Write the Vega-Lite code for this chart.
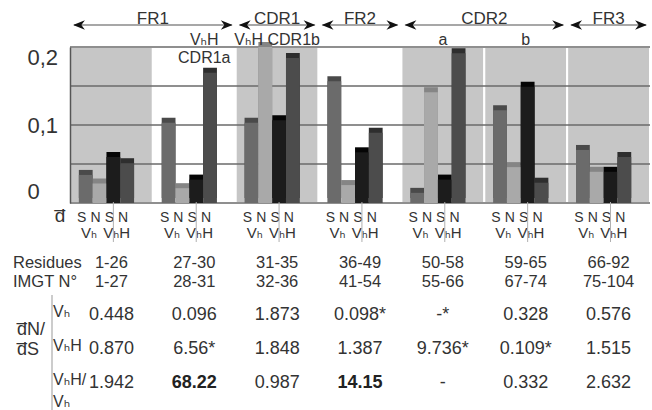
{
  "$schema": "https://vega.github.io/schema/vega-lite/v6.json",
  "width": 580,
  "height": 156,
  "autosize": {"type": "none"},
  "padding": {"left": 70, "top": 47, "right": 2, "bottom": 207},
  "background": "white",
  "config": {"view": {"stroke": null}, "font": "Liberation Sans, Arial, DejaVu Sans, sans-serif"},
  "datasets": {
    "bars": [
      {"group": "FR1", "series": "S VH", "subst": "S", "chain": "VH", "value": 0.036},
      {"group": "FR1", "series": "N VH", "subst": "N", "chain": "VH", "value": 0.025},
      {"group": "FR1", "series": "S VHH", "subst": "S", "chain": "VHH", "value": 0.059},
      {"group": "FR1", "series": "N VHH", "subst": "N", "chain": "VHH", "value": 0.051},
      {"group": "CDR1a", "series": "S VH", "subst": "S", "chain": "VH", "value": 0.103},
      {"group": "CDR1a", "series": "N VH", "subst": "N", "chain": "VH", "value": 0.019},
      {"group": "CDR1a", "series": "S VHH", "subst": "S", "chain": "VHH", "value": 0.030},
      {"group": "CDR1a", "series": "N VHH", "subst": "N", "chain": "VHH", "value": 0.167},
      {"group": "CDR1b", "series": "S VH", "subst": "S", "chain": "VH", "value": 0.103},
      {"group": "CDR1b", "series": "N VH", "subst": "N", "chain": "VH", "value": 0.200},
      {"group": "CDR1b", "series": "S VHH", "subst": "S", "chain": "VHH", "value": 0.106},
      {"group": "CDR1b", "series": "N VHH", "subst": "N", "chain": "VHH", "value": 0.186},
      {"group": "FR2", "series": "S VH", "subst": "S", "chain": "VH", "value": 0.156},
      {"group": "FR2", "series": "N VH", "subst": "N", "chain": "VH", "value": 0.023},
      {"group": "FR2", "series": "S VHH", "subst": "S", "chain": "VHH", "value": 0.065},
      {"group": "FR2", "series": "N VHH", "subst": "N", "chain": "VHH", "value": 0.090},
      {"group": "CDR2a", "series": "S VH", "subst": "S", "chain": "VH", "value": 0.013},
      {"group": "CDR2a", "series": "N VH", "subst": "N", "chain": "VH", "value": 0.142},
      {"group": "CDR2a", "series": "S VHH", "subst": "S", "chain": "VHH", "value": 0.030},
      {"group": "CDR2a", "series": "N VHH", "subst": "N", "chain": "VHH", "value": 0.192},
      {"group": "CDR2b", "series": "S VH", "subst": "S", "chain": "VH", "value": 0.119},
      {"group": "CDR2b", "series": "N VH", "subst": "N", "chain": "VH", "value": 0.046},
      {"group": "CDR2b", "series": "S VHH", "subst": "S", "chain": "VHH", "value": 0.149},
      {"group": "CDR2b", "series": "N VHH", "subst": "N", "chain": "VHH", "value": 0.026},
      {"group": "FR3", "series": "S VH", "subst": "S", "chain": "VH", "value": 0.068},
      {"group": "FR3", "series": "N VH", "subst": "N", "chain": "VH", "value": 0.040},
      {"group": "FR3", "series": "S VHH", "subst": "S", "chain": "VHH", "value": 0.040},
      {"group": "FR3", "series": "N VHH", "subst": "N", "chain": "VHH", "value": 0.059}
    ],
    "groups": [
      {"group": "FR1"}, {"group": "CDR1a"}, {"group": "CDR1b"}, {"group": "FR2"},
      {"group": "CDR2a"}, {"group": "CDR2b"}, {"group": "FR3"}
    ],
    "regions": [
      {"region": "FR1", "from": "FR1", "to": "CDR1a"},
      {"region": "CDR1", "from": "CDR1b", "to": "CDR1b"},
      {"region": "FR2", "from": "FR2", "to": "FR2"},
      {"region": "CDR2", "from": "CDR2a", "to": "CDR2b"},
      {"region": "FR3", "from": "FR3", "to": "FR3"}
    ],
    "columnLabels": [
      {"group": "CDR1a", "label": "VₕH\nCDR1a"},
      {"group": "CDR1b", "label": "VₕH CDR1b"},
      {"group": "CDR2a", "label": "a"},
      {"group": "CDR2b", "label": "b"}
    ],
    "table": [
      {"group": "FR1", "row": "residues", "text": "1-26"},
      {"group": "FR1", "row": "imgt", "text": "1-27"},
      {"group": "FR1", "row": "dVH", "text": "0.448"},
      {"group": "FR1", "row": "dVHH", "text": "0.870"},
      {"group": "FR1", "row": "ratio", "text": "1.942"},
      {"group": "CDR1a", "row": "residues", "text": "27-30"},
      {"group": "CDR1a", "row": "imgt", "text": "28-31"},
      {"group": "CDR1a", "row": "dVH", "text": "0.096"},
      {"group": "CDR1a", "row": "dVHH", "text": "6.56*"},
      {"group": "CDR1a", "row": "ratio", "text": "68.22"},
      {"group": "CDR1b", "row": "residues", "text": "31-35"},
      {"group": "CDR1b", "row": "imgt", "text": "32-36"},
      {"group": "CDR1b", "row": "dVH", "text": "1.873"},
      {"group": "CDR1b", "row": "dVHH", "text": "1.848"},
      {"group": "CDR1b", "row": "ratio", "text": "0.987"},
      {"group": "FR2", "row": "residues", "text": "36-49"},
      {"group": "FR2", "row": "imgt", "text": "41-54"},
      {"group": "FR2", "row": "dVH", "text": "0.098*"},
      {"group": "FR2", "row": "dVHH", "text": "1.387"},
      {"group": "FR2", "row": "ratio", "text": "14.15"},
      {"group": "CDR2a", "row": "residues", "text": "50-58"},
      {"group": "CDR2a", "row": "imgt", "text": "55-66"},
      {"group": "CDR2a", "row": "dVH", "text": "-*"},
      {"group": "CDR2a", "row": "dVHH", "text": "9.736*"},
      {"group": "CDR2a", "row": "ratio", "text": "-"},
      {"group": "CDR2b", "row": "residues", "text": "59-65"},
      {"group": "CDR2b", "row": "imgt", "text": "67-74"},
      {"group": "CDR2b", "row": "dVH", "text": "0.328"},
      {"group": "CDR2b", "row": "dVHH", "text": "0.109*"},
      {"group": "CDR2b", "row": "ratio", "text": "0.332"},
      {"group": "FR3", "row": "residues", "text": "66-92"},
      {"group": "FR3", "row": "imgt", "text": "75-104"},
      {"group": "FR3", "row": "dVH", "text": "0.576"},
      {"group": "FR3", "row": "dVHH", "text": "1.515"},
      {"group": "FR3", "row": "ratio", "text": "2.632"}
    ],
    "rowLabels": [
      {"label": "d̅", "row": "letters", "level": "mark"},
      {"label": "Residues", "row": "residues", "level": "outer"},
      {"label": "IMGT N°", "row": "imgt", "level": "outer"},
      {"label": "d̅N/\nd̅S", "row": "dVHH", "level": "heading"},
      {"label": "Vₕ", "row": "dVH", "level": "inner"},
      {"label": "VₕH", "row": "dVHH", "level": "inner"},
      {"label": "VₕH/\nVₕ", "row": "ratio", "level": "inner"}
    ]
  },
  "resolve": {"scale": {"y": "independent"}},
  "layer": [
    {
      "layer": [
        {
          "data": {"name": "groups"},
          "mark": {"type": "rect", "stroke": "white", "strokeWidth": 2},
          "encoding": {
            "x": {"field": "group", "type": "nominal", "axis": null,
                  "scale": {"domain": ["FR1", "CDR1a", "CDR1b", "FR2", "CDR2a", "CDR2b", "FR3"], "paddingInner": 0, "paddingOuter": 0}},
            "y": {"datum": 0, "type": "quantitative", "scale": {"domain": [0, 0.2]},
                  "axis": {"values": [0, 0.1, 0.2], "format": "~g", "labelExpr": "replace(datum.label, '.', ',')",
                           "labelFontSize": 22, "labelColor": "#333", "labelFlush": true, "labelAlign": "left",
                           "labelPadding": 43, "ticks": false, "grid": false, "domain": true,
                           "domainColor": "#555", "domainWidth": 1.5, "title": null, "zindex": 1}},
            "y2": {"datum": 0.2},
            "color": {"condition": {"test": "datum.group === 'CDR1a' || datum.group === 'FR2'", "value": "#ffffff"}, "value": "#c6c6c6"}
          }
        },
        {
          "data": {"values": [{"tick": 0}, {"tick": 0.05}, {"tick": 0.1}, {"tick": 0.15}, {"tick": 0.2}]},
          "mark": {"type": "rule", "color": "#6a6a6a", "strokeWidth": 1.3},
          "encoding": {"y": {"field": "tick", "type": "quantitative"}}
        },
        {
          "data": {"name": "bars"},
          "mark": {"type": "bar", "xOffset": 5, "yOffset": -5, "y2Offset": -5},
          "encoding": {
            "x": {"field": "group", "type": "nominal",
                  "scale": {"domain": ["FR1", "CDR1a", "CDR1b", "FR2", "CDR2a", "CDR2b", "FR3"], "paddingInner": 0, "paddingOuter": 0}},
            "xOffset": {"field": "series", "type": "nominal",
                        "scale": {"domain": ["S VH", "N VH", "S VHH", "N VHH"], "paddingInner": 0, "paddingOuter": 1.19, "align": 0.32}},
            "y": {"field": "value", "type": "quantitative"},
            "fill": {"field": "series", "type": "nominal", "legend": null,
                     "scale": {"domain": ["S VH", "N VH", "S VHH", "N VHH"], "range": ["#4a4a4a", "#858585", "#050505", "#2e2e2e"]}}
          }
        },
        {
          "data": {"name": "bars"},
          "mark": {"type": "bar"},
          "encoding": {
            "x": {"field": "group", "type": "nominal",
                  "scale": {"domain": ["FR1", "CDR1a", "CDR1b", "FR2", "CDR2a", "CDR2b", "FR3"], "paddingInner": 0, "paddingOuter": 0}},
            "xOffset": {"field": "series", "type": "nominal",
                        "scale": {"domain": ["S VH", "N VH", "S VHH", "N VHH"], "paddingInner": 0, "paddingOuter": 1.19, "align": 0.32}},
            "y": {"field": "value", "type": "quantitative"},
            "color": {"field": "series", "type": "nominal", "legend": null,
                      "scale": {"domain": ["S VH", "N VH", "S VHH", "N VHH"], "range": ["#6b6b6b", "#a9a9a9", "#1c1c1c", "#4c4c4c"]}}
          }
        },
        {
          "data": {"name": "regions"},
          "mark": {"type": "rule", "color": "#8a8a8a", "strokeWidth": 1.5, "xOffset": 4, "x2Offset": -4},
          "encoding": {
            "x": {"field": "from", "type": "nominal", "bandPosition": 0},
            "x2": {"field": "to", "bandPosition": 1},
            "y": {"datum": 0.2282}
          }
        },
        {
          "data": {"name": "regions"},
          "mark": {"type": "point", "shape": "M-1,0L1,-0.8L0.4,0L1,0.8Z", "filled": true, "size": 140, "color": "#111", "opacity": 1, "xOffset": 9},
          "encoding": {
            "x": {"field": "from", "type": "nominal", "bandPosition": 0},
            "y": {"datum": 0.2282}
          }
        },
        {
          "data": {"name": "regions"},
          "mark": {"type": "point", "shape": "M1,0L-1,-0.8L-0.4,0L-1,0.8Z", "filled": true, "size": 140, "color": "#111", "opacity": 1, "xOffset": -9},
          "encoding": {
            "x": {"field": "to", "type": "nominal", "bandPosition": 1},
            "y": {"datum": 0.2282}
          }
        },
        {
          "data": {"name": "regions"},
          "transform": [{"filter": "datum.from !== datum.to"}],
          "mark": {"type": "text", "fontSize": 17, "baseline": "alphabetic", "color": "#333", "dy": -1},
          "encoding": {
            "x": {"field": "to", "type": "nominal", "bandPosition": 0},
            "y": {"datum": 0.2282},
            "text": {"field": "region"}
          }
        },
        {
          "data": {"name": "regions"},
          "transform": [{"filter": "datum.from === datum.to"}],
          "mark": {"type": "text", "fontSize": 17, "baseline": "alphabetic", "color": "#333", "dy": -1},
          "encoding": {
            "x": {"field": "to", "type": "nominal"},
            "y": {"datum": 0.2282},
            "text": {"field": "region"}
          }
        },
        {
          "data": {"name": "columnLabels"},
          "transform": [{"filter": "datum.group === 'CDR1a'"}],
          "mark": {"type": "text", "fontSize": 16, "baseline": "alphabetic", "color": "#333", "lineBreak": "\n", "lineHeight": 18, "dx": 10},
          "encoding": {
            "x": {"field": "group", "type": "nominal"},
            "y": {"datum": 0.2026},
            "text": {"field": "label"}
          }
        },
        {
          "data": {"name": "columnLabels"},
          "transform": [{"filter": "datum.group !== 'CDR1a'"}],
          "mark": {"type": "text", "fontSize": 16, "baseline": "alphabetic", "color": "#333"},
          "encoding": {
            "x": {"field": "group", "type": "nominal"},
            "y": {"datum": 0.2026},
            "text": {"field": "label"}
          }
        }
      ]
    },
    {
      "layer": [
        {
          "data": {"name": "bars"},
          "mark": {"type": "text", "fontSize": 14, "baseline": "alphabetic", "color": "#333", "dx": -4},
          "encoding": {
            "x": {"field": "group", "type": "nominal",
                  "scale": {"domain": ["FR1", "CDR1a", "CDR1b", "FR2", "CDR2a", "CDR2b", "FR3"], "paddingInner": 0, "paddingOuter": 0}},
            "xOffset": {"field": "series", "type": "nominal",
                        "scale": {"domain": ["S VH", "N VH", "S VHH", "N VHH"], "paddingInner": 0, "paddingOuter": 1.19, "align": 0.32}},
            "y": {"datum": "letters", "type": "nominal", "axis": null,
                  "scale": {"type": "point", "domain": ["letters", "chains"], "range": [175, 191], "padding": 0}},
            "text": {"field": "subst"}
          }
        },
        {
          "data": {"name": "bars"},
          "transform": [
            {"filter": "datum.subst === 'N'"},
            {"calculate": "datum.chain === 'VH' ? 'Vₕ' : 'VₕH'", "as": "chainLabel"}
          ],
          "mark": {"type": "text", "fontSize": 15, "baseline": "alphabetic", "color": "#333", "dx": -10.5},
          "encoding": {
            "x": {"field": "group", "type": "nominal"},
            "xOffset": {"field": "series", "type": "nominal"},
            "y": {"datum": "chains", "type": "nominal"},
            "text": {"field": "chainLabel"}
          }
        },
        {
          "data": {"name": "bars"},
          "transform": [{"filter": "datum.series === 'S VHH'"}],
          "mark": {"type": "rule", "color": "#b0b0b0", "strokeWidth": 1, "xOffset": -10.5, "yOffset": -20, "y2Offset": 4},
          "encoding": {
            "x": {"field": "group", "type": "nominal"},
            "xOffset": {"field": "series", "type": "nominal"},
            "y": {"datum": "letters", "type": "nominal"},
            "y2": {"datum": "chains"}
          }
        },
        {
          "data": {"name": "rowLabels"},
          "transform": [{"filter": "datum.level === 'mark'"}],
          "mark": {"type": "text", "fontSize": 19, "baseline": "alphabetic", "align": "center", "color": "#333", "dx": -10},
          "encoding": {
            "x": {"datum": "FR1", "type": "nominal", "bandPosition": 0},
            "y": {"field": "row", "type": "nominal"},
            "text": {"field": "label"}
          }
        }
      ]
    },
    {
      "layer": [
        {
          "data": {"name": "table"},
          "transform": [{"filter": "datum.row === 'residues' || datum.row === 'imgt'"}],
          "mark": {"type": "text", "fontSize": 16.5, "baseline": "alphabetic", "color": "#333"},
          "encoding": {
            "x": {"field": "group", "type": "nominal",
                  "scale": {"domain": ["FR1", "CDR1a", "CDR1b", "FR2", "CDR2a", "CDR2b", "FR3"], "paddingInner": 0, "paddingOuter": 0}},
            "y": {"field": "row", "type": "nominal", "axis": null,
                  "scale": {"type": "point", "domain": ["residues", "imgt"], "range": [221, 240], "padding": 0}},
            "text": {"field": "text"}
          }
        },
        {
          "data": {"name": "rowLabels"},
          "transform": [{"filter": "datum.level === 'outer'"}],
          "mark": {"type": "text", "fontSize": 16.5, "baseline": "alphabetic", "align": "left", "color": "#333", "dx": -57},
          "encoding": {
            "x": {"datum": "FR1", "type": "nominal", "bandPosition": 0},
            "y": {"field": "row", "type": "nominal"},
            "text": {"field": "label"}
          }
        }
      ]
    },
    {
      "layer": [
        {
          "data": {"name": "table"},
          "transform": [{"filter": "(datum.row === 'dVH' || datum.row === 'dVHH' || datum.row === 'ratio') && !(datum.row === 'ratio' && (datum.group === 'CDR1a' || datum.group === 'FR2'))"}],
          "mark": {"type": "text", "fontSize": 18, "baseline": "alphabetic", "color": "#333"},
          "encoding": {
            "x": {"field": "group", "type": "nominal",
                  "scale": {"domain": ["FR1", "CDR1a", "CDR1b", "FR2", "CDR2a", "CDR2b", "FR3"], "paddingInner": 0, "paddingOuter": 0}},
            "y": {"field": "row", "type": "nominal", "axis": null,
                  "scale": {"type": "point", "domain": ["dVH", "dVHH", "ratio"], "range": [273, 341], "padding": 0}},
            "text": {"field": "text"}
          }
        },
        {
          "data": {"name": "table"},
          "transform": [{"filter": "datum.row === 'ratio' && (datum.group === 'CDR1a' || datum.group === 'FR2')"}],
          "mark": {"type": "text", "fontSize": 18, "fontWeight": "bold", "baseline": "alphabetic", "color": "#222"},
          "encoding": {
            "x": {"field": "group", "type": "nominal"},
            "y": {"field": "row", "type": "nominal"},
            "text": {"field": "text"}
          }
        },
        {
          "data": {"name": "rowLabels"},
          "transform": [{"filter": "datum.level === 'inner'"}],
          "mark": {"type": "text", "fontSize": 16, "baseline": "alphabetic", "align": "left", "color": "#333", "dx": -17, "dy": -3, "lineBreak": "\n", "lineHeight": 22},
          "encoding": {
            "x": {"datum": "FR1", "type": "nominal", "bandPosition": 0},
            "y": {"field": "row", "type": "nominal"},
            "text": {"field": "label"}
          }
        },
        {
          "data": {"name": "rowLabels"},
          "transform": [{"filter": "datum.level === 'heading'"}],
          "mark": {"type": "text", "fontSize": 18, "baseline": "alphabetic", "align": "left", "color": "#333", "dx": -53, "dy": -19, "lineBreak": "\n", "lineHeight": 20},
          "encoding": {
            "x": {"datum": "FR1", "type": "nominal", "bandPosition": 0},
            "y": {"field": "row", "type": "nominal"},
            "text": {"field": "label"}
          }
        },
        {
          "data": {"name": "rowLabels"},
          "transform": [{"filter": "datum.level === 'heading'"}],
          "mark": {"type": "rule", "color": "#999", "strokeWidth": 1, "xOffset": -18, "yOffset": -25, "y2Offset": 25},
          "encoding": {
            "x": {"datum": "FR1", "type": "nominal", "bandPosition": 0},
            "y": {"datum": "dVH", "type": "nominal"},
            "y2": {"datum": "ratio"}
          }
        }
      ]
    }
  ]
}
